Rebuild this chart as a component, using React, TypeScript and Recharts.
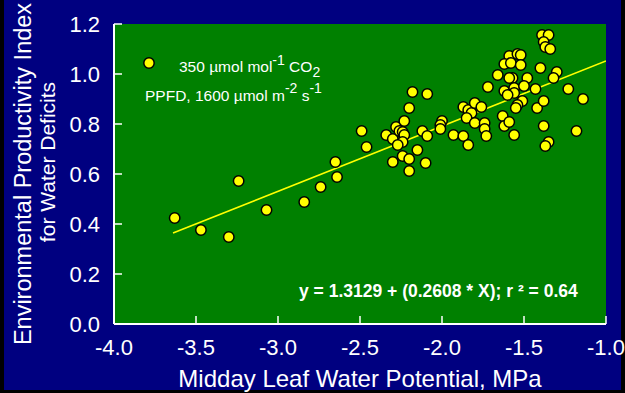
import React from "react";
import { ScatterChart, Scatter, XAxis, YAxis, CartesianGrid, Legend } from "recharts";

const FONT = '"Liberation Sans", Arial, Helvetica, sans-serif';
const NAVY = "#000080";
const GREEN = "#008000";
const YELLOW = "#ffff00";

// Midday leaf water potential (MPa)
const waterPotential = [
  -3.63, -3.47, -3.30, -3.24, -3.07, -2.84, -2.74, -2.65, -2.64, -2.49,
  -2.46, -2.34, -2.30, -2.28, -2.26, -2.24, -2.23, -2.24, -2.27, -2.20,
  -2.23, -2.18, -2.09, -2.12, -2.09, -2.15, -2.30, -2.24, -2.20, -2.20,
  -2.10, -2.00, -2.01, -2.01, -1.93, -1.87, -1.84, -1.87, -1.84, -1.82,
  -1.80, -1.76, -1.85, -1.80, -1.74, -1.74, -1.73, -1.72, -1.66, -1.63,
  -1.62, -1.59, -1.56, -1.59, -1.54, -1.52, -1.62, -1.58, -1.52, -1.57,
  -1.59, -1.48, -1.62, -1.56, -1.56, -1.60, -1.50, -1.43, -1.51, -1.54,
  -1.55, -1.42, -1.38, -1.38, -1.35, -1.37, -1.40, -1.39, -1.35, -1.38,
  -1.37, -1.34, -1.30, -1.32, -1.23, -1.14, -1.18,
];

// Environmental productivity index for water deficits
const productivityIndex = [
  0.424, 0.376, 0.348, 0.572, 0.456, 0.488, 0.548, 0.648, 0.588, 0.772,
  0.708, 0.756, 0.740, 0.788, 0.772, 0.768, 0.756, 0.728, 0.716, 0.864,
  0.812, 0.928, 0.920, 0.772, 0.752, 0.696, 0.648, 0.672, 0.660, 0.612,
  0.644, 0.812, 0.796, 0.780, 0.756, 0.752, 0.716, 0.868, 0.856, 0.844,
  0.884, 0.868, 0.824, 0.804, 0.804, 0.780, 0.752, 0.948, 0.996, 0.832,
  0.792, 0.808, 0.756, 1.072, 1.080, 1.076, 1.040, 1.044, 1.036, 0.984,
  0.984, 0.984, 0.932, 0.944, 0.924, 0.916, 0.952, 0.940, 0.892, 0.876,
  0.864, 0.864, 0.892, 0.792, 0.728, 0.712, 1.024, 1.156, 1.156, 1.128,
  1.108, 1.100, 1.008, 0.984, 0.940, 0.900, 0.772,
];

const xTicks = [-4.0, -3.5, -3.0, -2.5, -2.0, -1.5, -1.0];
const yTicks = [0.0, 0.2, 0.4, 0.6, 0.8, 1.0, 1.2];

// linear regression reported with the data
const fitIntercept = 1.3129;
const fitSlope = 0.2608;
const fitR2 = 0.64;
const fitRange = [-3.64, -1.0];

const tickStyle = { fill: "#fff", fontSize: 22, fontFamily: FONT };
const tickLine = { stroke: "#fff", strokeWidth: 1.5 };
const axisLine = { stroke: "#fff", strokeWidth: 2 };
const fmt = (v: number) => v.toFixed(1);

function Dot({ cx, cy }: any) {
  return <circle cx={cx} cy={cy} r={5.2} fill={YELLOW} stroke="#000" strokeWidth={1.5} />;
}

// two-line rotated y axis title
function YTitle({ viewBox }: any) {
  const top = viewBox?.y ?? 24;
  const h = viewBox?.height ?? 300;
  const cy = top + h / 2;
  return (
    <g fill="#fff" fontFamily={FONT} textAnchor="middle">
      <text x={31} y={cy} fontSize={23.5} transform={`rotate(-90 31 ${cy})`}>
        Environmental Productivity Index
      </text>
      <text x={55} y={cy - 12} fontSize={21} transform={`rotate(-90 55 ${cy - 12})`}>
        for Water Deficits
      </text>
    </g>
  );
}

// legend marker, growth conditions and the regression equation
function Annotations() {
  return (
    <svg
      width={625}
      height={393}
      style={{ position: "absolute", left: 0, top: 0, pointerEvents: "none" }}
    >
      <circle cx={149} cy={63} r={5.2} fill={YELLOW} stroke="#000" strokeWidth={1.5} />
      <g fill="#fff" fontFamily={FONT} fontSize={15.5}>
        <text x={179} y={72}>
          350 µmol mol
          <tspan dy={-7} fontSize={14}>-1</tspan>
          <tspan dy={7}> CO</tspan>
          <tspan dy={5} fontSize={14}>2</tspan>
        </text>
        <text x={145} y={101}>
          PPFD, 1600 µmol m
          <tspan dy={-8} fontSize={14}>-2</tspan>
          <tspan dy={8}> s</tspan>
          <tspan dy={-8} fontSize={14}>-1</tspan>
        </text>
      </g>
      <text x={299} y={297} fill="#fff" fontFamily={FONT} fontSize={17.5} fontWeight="bold">
        {`y = ${fitIntercept} + (${fitSlope} * X); r ² = ${fitR2.toFixed(2)}`}
      </text>
    </svg>
  );
}

export default function App() {
  const points = waterPotential.map((x, i) => ({ x, y: productivityIndex[i] }));
  const fitLine = fitRange.map((x) => ({ x, y: fitIntercept + fitSlope * x }));

  return (
    <div style={{ position: "absolute", left: 0, top: 0, width: 625, height: 393, background: "#000" }}>
      <div style={{ position: "absolute", left: 4, top: 0, width: 617, height: 390, background: NAVY }} />
      <div style={{ position: "absolute", left: 0, top: 0 }}>
        <ScatterChart width={625} height={393} margin={{ top: 24, right: 19, bottom: 0, left: 0 }}>
          <CartesianGrid horizontal={false} vertical={false} fill={GREEN} stroke="none" />
          <XAxis
            dataKey="x"
            type="number"
            domain={[-4, -1]}
            ticks={xTicks}
            interval={0}
            allowDataOverflow
            height={69}
            tickSize={-8}
            tickMargin={23}
            tickFormatter={fmt}
            tick={tickStyle}
            tickLine={tickLine}
            axisLine={axisLine}
            label={{
              value: "Midday Leaf Water Potential, MPa",
              position: "insideBottom",
              offset: 6,
              fill: "#fff",
              fontSize: 24,
              fontFamily: FONT,
            }}
          />
          <XAxis
            xAxisId="top"
            orientation="top"
            type="number"
            domain={[-4, -1]}
            ticks={xTicks}
            interval={0}
            height={0}
            tickSize={-8}
            tick={false}
            tickLine={tickLine}
            axisLine={axisLine}
          />
          <YAxis
            dataKey="y"
            type="number"
            domain={[0, 1.2]}
            ticks={yTicks}
            interval={0}
            allowDataOverflow
            width={114}
            tickSize={-8}
            tickMargin={22}
            tickFormatter={fmt}
            tick={tickStyle}
            tickLine={tickLine}
            axisLine={axisLine}
            label={<YTitle />}
          />
          <YAxis
            yAxisId="right"
            orientation="right"
            type="number"
            domain={[0, 1.2]}
            ticks={yTicks}
            interval={0}
            width={0}
            tickSize={-8}
            tick={false}
            tickLine={tickLine}
            axisLine={axisLine}
          />
          <Scatter
            data={fitLine}
            line={{ stroke: YELLOW, strokeWidth: 1.6 }}
            shape={() => <g />}
            legendType="none"
            isAnimationActive={false}
          />
          <Scatter data={points} shape={Dot} isAnimationActive={false} />
          <Legend
            content={() => <Annotations />}
            layout="horizontal"
            verticalAlign="middle"
            align="center"
            wrapperStyle={{ position: "absolute", left: 0, top: 0, width: 625, height: 393 }}
          />
        </ScatterChart>
      </div>
    </div>
  );
}
